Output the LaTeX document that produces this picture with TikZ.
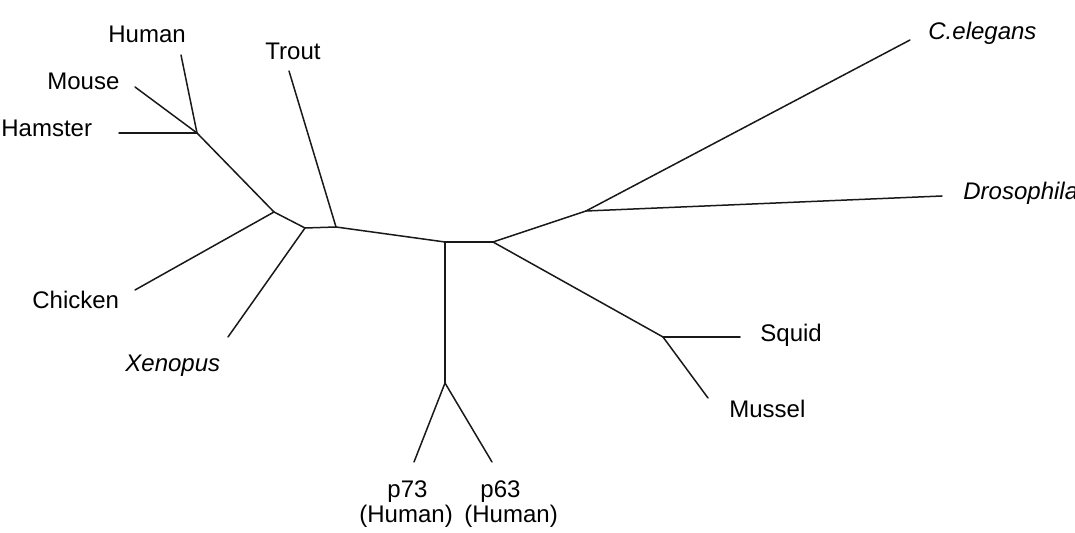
\documentclass[tikz,border=0pt]{standalone}
\usepackage{fontspec}
\setmainfont{Liberation Sans}
\begin{document}
\begin{tikzpicture}[x=0.5pt,y=-0.5pt,
  branch/.style={line width=0.75pt, line cap=round, draw=black!90},
  lbl/.style={inner sep=0pt, anchor=base west, font=\fontsize{12}{14}\selectfont},
  ilbl/.style={lbl, font=\fontsize{12}{14}\selectfont\itshape}]
\useasboundingbox (0,0) rectangle (1075,533);
\clip (0,0) rectangle (1075,533);
% internal nodes
\coordinate (rod) at (197,133);
\coordinate (A) at (274,212);
\coordinate (B) at (305,228);
\coordinate (C) at (336,227);
\coordinate (D) at (445,242);
\coordinate (E) at (493,242);
\coordinate (P) at (445,383);
\coordinate (F) at (586,211);
\coordinate (G) at (663,337);
% leaf ends
\coordinate (hum) at (181,55);
\coordinate (mou) at (135,87);
\coordinate (ham) at (119,133);
\coordinate (chk) at (135,290);
\coordinate (xen) at (228,337);
\coordinate (tro) at (289,71);
\coordinate (p73) at (414,462);
\coordinate (p63) at (492,462);
\coordinate (cel) at (910,40);
\coordinate (dro) at (942,196);
\coordinate (squ) at (740,337);
\coordinate (mus) at (708,398);
% branches
\draw[branch] (hum) -- (rod);
\draw[branch] (mou) -- (rod);
\draw[branch] (ham) -- (rod);
\draw[branch] (rod) -- (A);
\draw[branch] (A) -- (chk);
\draw[branch] (A) -- (B);
\draw[branch] (B) -- (xen);
\draw[branch] (B) -- (C);
\draw[branch] (C) -- (tro);
\draw[branch] (C) -- (D);
\draw[branch] (D) -- (E);
\draw[branch] (D) -- (P);
\draw[branch] (P) -- (p73);
\draw[branch] (P) -- (p63);
\draw[branch] (E) -- (F);
\draw[branch] (F) -- (cel);
\draw[branch] (F) -- (dro);
\draw[branch] (E) -- (G);
\draw[branch] (G) -- (squ);
\draw[branch] (G) -- (mus);
% labels
\node[lbl] (tHuman) at (108,43) {Human};
\node[lbl] (tTrout) at (265,60) {Trout};
\node[lbl] (tMouse) at (47,90) {Mouse};
\node[lbl] (tHamster) at (1,137) {Hamster};
\node[lbl] (tChicken) at (32,309) {Chicken};
\node[ilbl] (tXenopus) at (125,372) {Xenopus};
\node[lbl] (tp73) at (387,497) {p73};
\node[lbl] (tp73b) at (359,523) {(Human)};
\node[lbl] (tp63) at (480,497) {p63};
\node[lbl] (tp63b) at (464,523) {(Human)};
\node[lbl] (tSquid) at (760,342) {Squid};
\node[lbl] (tMussel) at (729,418) {Mussel};
\node[ilbl] (tCel) at (928,40) {C.elegans};
\node[ilbl] (tDro) at (963,200) {Drosophila};
\end{tikzpicture}
\end{document}
